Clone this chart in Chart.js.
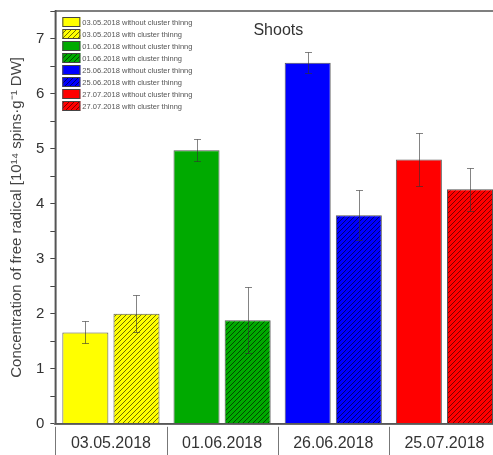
<!DOCTYPE html>
<html>
<head>
<meta charset="utf-8">
<script src="https://cdn.jsdelivr.net/npm/chart.js@4/dist/chart.umd.min.js"></script>
<style>
  html, body { margin: 0; padding: 0; background: #fff; overflow: hidden; }
  #wrap { position: relative; top: -4px; width: 503px; height: 474px; }
</style>
</head>
<body>
<div id="wrap"><canvas id="chart"></canvas></div>
<script>
// categories on the axis
const dates = ["03.05.2018", "01.06.2018", "26.06.2018", "25.07.2018"];
// dates as written in the legend
const legendDates = ["03.05.2018", "01.06.2018", "25.06.2018", "27.07.2018"];

const withoutMeans = [1.66, 4.97, 6.56, 4.80];
const withoutErr = [0.20, 0.20, 0.19, 0.48];
const withMeans = [2.00, 1.88, 3.79, 4.26];
const withErr = [0.34, 0.60, 0.45, 0.39];

const baseColors = ["#ffff00", "#00aa00", "#0000ff", "#ff0000"];
const hatchColors = ["#6e6e00", "#004a00", "#00006e", "#7a0000"];

function hatch(base, line) {
  const c = document.createElement("canvas");
  c.width = 5; c.height = 5;
  const g = c.getContext("2d");
  g.fillStyle = base;
  g.fillRect(0, 0, 5, 5);
  g.strokeStyle = line;
  g.lineWidth = 1;
  g.beginPath();
  g.moveTo(-1, 6); g.lineTo(6, -1);
  g.moveTo(-1, 1); g.lineTo(1, -1);
  g.moveTo(4, 6); g.lineTo(6, 4);
  g.stroke();
  return g.createPattern(c, "repeat");
}

function onlyAt(k, v) {
  return dates.map((d, i) => (i === k ? v : null));
}

const datasets = [];
dates.forEach((d, k) => {
  datasets.push({
    label: legendDates[k] + " without cluster thinng",
    data: onlyAt(k, withoutMeans[k]),
    err: onlyAt(k, withoutErr[k]),
    backgroundColor: baseColors[k]
  });
  datasets.push({
    label: legendDates[k] + " with cluster thinng",
    data: onlyAt(k, withMeans[k]),
    err: onlyAt(k, withErr[k]),
    backgroundColor: hatch(baseColors[k], hatchColors[k])
  });
});

const extras = {
  id: "extras",
  afterDatasetsDraw(chart) {
    const ctx = chart.ctx;
    const a = chart.chartArea;
    const x = chart.scales.x;
    const y = chart.scales.y;
    ctx.save();
    // error bars
    ctx.strokeStyle = "rgba(50,50,50,0.6)";
    ctx.lineWidth = 1;
    chart.data.datasets.forEach((ds, i) => {
      const meta = chart.getDatasetMeta(i);
      ds.data.forEach((v, j) => {
        if (v === null) return;
        const px = Math.round(meta.data[j].x) + 0.5;
        const t = Math.round(y.getPixelForValue(v + ds.err[j])) + 0.5;
        const b = Math.round(y.getPixelForValue(v - ds.err[j])) + 0.5;
        ctx.beginPath();
        ctx.moveTo(px, t); ctx.lineTo(px, b);
        ctx.moveTo(px - 3.5, t); ctx.lineTo(px + 3.5, t);
        ctx.moveTo(px - 3.5, b); ctx.lineTo(px + 3.5, b);
        ctx.stroke();
      });
    });
    // frame
    ctx.strokeStyle = "#555";
    ctx.lineWidth = 1.5;
    ctx.strokeRect(a.left, a.top, a.right - a.left, a.bottom - a.top);
    // boxed cells under the categories
    const half = (x.getPixelForValue(1) - x.getPixelForValue(0)) / 2;
    ctx.strokeStyle = "#777";
    ctx.lineWidth = 1;
    ctx.beginPath();
    dates.forEach((d, i) => {
      const bx = Math.round(x.getPixelForValue(i) - half) + 0.5;
      ctx.moveTo(bx, a.bottom + 3); ctx.lineTo(bx, a.bottom + 40);
    });
    const ex = Math.round(x.getPixelForValue(dates.length - 1) + half) + 0.5;
    ctx.moveTo(ex, a.bottom + 3); ctx.lineTo(ex, a.bottom + 40);
    ctx.stroke();
    // legend inside the plot
    ctx.font = "7.5px 'Liberation Sans', Arial, sans-serif";
    ctx.textBaseline = "middle";
    chart.data.datasets.forEach((ds, i) => {
      const bx = a.left + 7, by = a.top + 6 + i * 12;
      ctx.fillStyle = ds.backgroundColor;
      ctx.fillRect(bx, by, 18, 10);
      ctx.strokeStyle = "#444";
      ctx.lineWidth = 1;
      ctx.strokeRect(bx + 0.5, by + 0.5, 17, 9);
      ctx.fillStyle = "#555";
      ctx.fillText(ds.label, bx + 20, by + 5.5);
    });
    // panel title
    ctx.font = "16px 'Liberation Sans', Arial, sans-serif";
    ctx.fillStyle = "#333";
    ctx.textAlign = "center";
    ctx.fillText("Shoots", a.left + 223, a.top + 20);
    ctx.restore();
  }
};

new Chart(document.getElementById("chart"), {
  type: "bar",
  data: { labels: dates, datasets: datasets },
  options: {
    responsive: true,
    maintainAspectRatio: false,
    animation: false,
    layout: { autoPadding: false, padding: { left: 8, right: 3, top: 11, bottom: 7 } },
    datasets: {
      bar: {
        skipNull: true,
        categoryPercentage: 0.92,
        barPercentage: 0.9,
        borderColor: "#555",
        borderWidth: 1
      }
    },
    plugins: {
      legend: { display: false },
      tooltip: { enabled: false }
    },
    scales: {
      x: {
        grid: { offset: true, drawOnChartArea: false, drawTicks: false },
        border: { color: "#888", width: 2 },
        ticks: { padding: 10, color: "#333", font: { size: 16, family: "'Liberation Sans', Arial, sans-serif" } }
      },
      y: {
        min: 0,
        max: 7.5,
        ticks: {
          stepSize: 0.5,
          padding: 6,
          color: "#333",
          font: { size: 15, family: "'Liberation Sans', Arial, sans-serif" },
          callback: v => (Number.isInteger(v) ? v : "")
        },
        grid: { drawOnChartArea: false, tickLength: 5, color: "#444" },
        border: { color: "#444", width: 1.5 },
        title: {
          display: true,
          text: "Concentration of free radical [10\u00b9\u2074 spins\u00b7g\u207b\u00b9 DW]",
          color: "#444",
          font: { size: 15, family: "'Liberation Sans', Arial, sans-serif" },
          padding: { top: 0, bottom: 4 }
        }
      }
    }
  },
  plugins: [extras]
});
</script>
</body>
</html>
